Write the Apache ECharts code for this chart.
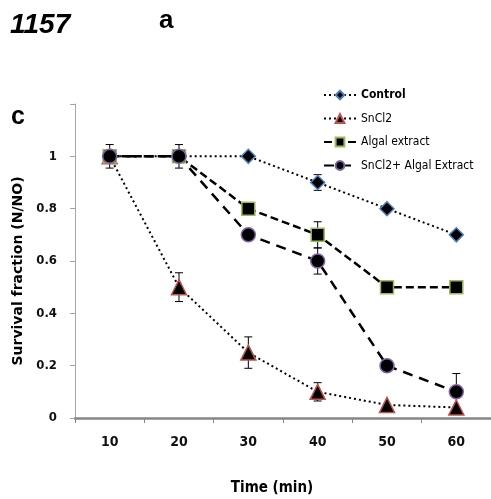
<!DOCTYPE html>
<html>
<head>
<meta charset="utf-8">
<script src="https://cdn.jsdelivr.net/npm/echarts@6/dist/echarts.min.js"></script>
<style>html,body{margin:0;padding:0;background:#fff;}#c{width:491px;height:499px;}</style>
</head>
<body>
<div id="c"></div>
<script>
const times = ['10', '20', '30', '40', '50', '60'];
const yTicks = [0, 0.2, 0.4, 0.6, 0.8, 1];
const seriesNames = ['Control', 'SnCl2', 'Algal extract', 'SnCl2+ Algal Extract'];
const control = [1, 1, 1, 0.9, 0.8, 0.7];
const sncl2 = [1, 0.5, 0.25, 0.1, 0.05, 0.04];
const algal = [1, 1, 0.8, 0.7, 0.5, 0.5];
const combo = [1, 1, 0.7, 0.6, 0.2, 0.1];
const controlErr = [0, 0, 0, 0.03, 0, 0];
const sncl2Err = [0, 0.055, 0.06, 0.035, 0, 0];
const algalErr = [0, 0, 0, 0.05, 0, 0];
const comboErr = [0.045, 0.045, 0, 0.05, 0, 0.07];

const FN = "'DejaVu Sans Condensed', 'Liberation Sans Narrow', sans-serif";
const chart = echarts.init(document.getElementById('c'));

function errData(vals, errs) {
  const out = [];
  vals.forEach((v, i) => { if (errs[i] > 0) out.push([i, v, errs[i]]); });
  return out;
}
function errSeries(vals, errs) {
  return {
    type: 'custom', z: 1, silent: true,
    data: errData(vals, errs),
    renderItem: function (params, api) {
      const x = api.value(0), y = api.value(1), e = api.value(2);
      const t = api.coord([x, y + e]);
      const b = api.coord([x, y - e]);
      const w = 4;
      const st = { stroke: '#000', lineWidth: 1 };
      return { type: 'group', children: [
        { type: 'line', shape: { x1: t[0], y1: t[1], x2: b[0], y2: b[1] }, style: st },
        { type: 'line', shape: { x1: t[0] - w, y1: t[1], x2: t[0] + w, y2: t[1] }, style: st },
        { type: 'line', shape: { x1: b[0] - w, y1: b[1], x2: b[0] + w, y2: b[1] }, style: st }
      ]};
    }
  };
}
function lineSeries(name, data, symbol, size, border, dash, width) {
  return {
    name: name, type: 'line', data: data, z: 3,
    symbol: symbol, symbolSize: size, showAllSymbol: true,
    itemStyle: { color: '#000', borderColor: border, borderWidth: 1.5 },
    lineStyle: { color: '#000', width: width, type: dash },
    emphasis: { disabled: true }
  };
}

const option = {
  animation: false,
  backgroundColor: '#fff',
  grid: { left: 75, right: -13, top: 104, bottom: 81 },
  legend: {
    orient: 'vertical', left: 323, top: 89, padding: 0,
    itemWidth: 32, itemHeight: 11, itemGap: 11.5,
    data: seriesNames,
    textStyle: { fontFamily: FN, fontSize: 12, color: '#000',
      rich: { b: { fontFamily: FN, fontSize: 12, fontWeight: 'bold', color: '#000' } } },
    formatter: function (n) { return n === 'Control' ? '{b|' + n + '}' : n; }
  },
  xAxis: {
    type: 'category', data: times, boundaryGap: true,
    axisLine: { lineStyle: { color: '#868686', width: 2.5 } },
    axisTick: { show: true, length: 5, lineStyle: { color: '#868686', width: 1 } },
    axisLabel: { margin: 17, fontFamily: FN, fontSize: 14, fontWeight: 'bold', color: '#111' },
    splitLine: { show: false }
  },
  yAxis: {
    type: 'value', min: 0, max: 1.2, interval: 0.2,
    axisLine: { show: true, lineStyle: { color: '#a6a6a6', width: 1 } },
    axisTick: { show: true, length: 5, lineStyle: { color: '#a6a6a6' } },
    axisLabel: { margin: 18, fontFamily: FN, fontSize: 13, fontWeight: 'bold', color: '#111',
      formatter: function (v) {
        const r = Math.round(v * 10) / 10;
        return yTicks.indexOf(r) >= 0 ? String(r) : '';
      } },
    splitLine: { show: false }
  },
  graphic: [
    { type: 'text', left: 10, top: 11, style: { text: '1157', font: "italic bold 28px 'Liberation Sans', Arial, sans-serif", fill: '#000' } },
    { type: 'text', left: 159, top: 8, style: { text: 'a', font: "bold 26px 'Liberation Sans', Arial, sans-serif", fill: '#000' } },
    { type: 'text', left: 11, top: 105, style: { text: 'c', font: "bold 25px 'Liberation Sans', Arial, sans-serif", fill: '#000' } },
    { type: 'text', x: 272, y: 488, style: { text: 'Time (min)', font: "bold 15px " + FN, fill: '#000', align: 'center', verticalAlign: 'middle' } },
    { type: 'text', x: 18, y: 271, rotation: Math.PI / 2,
      style: { text: 'Survival fraction (N/NO)', font: "bold 14px 'DejaVu Sans', sans-serif", fill: '#000', align: 'center', verticalAlign: 'middle' } }
  ],
  series: [
    errSeries(control, controlErr),
    errSeries(sncl2, sncl2Err),
    errSeries(algal, algalErr),
    errSeries(combo, comboErr),
    lineSeries(seriesNames[0], control, 'diamond', 14, '#4F81BD', [2, 3], 2),
    lineSeries(seriesNames[1], sncl2, 'triangle', 15, '#C0504D', [2, 3], 2),
    lineSeries(seriesNames[2], algal, 'rect', 13, '#9BBB59', [8, 4], 2.5),
    lineSeries(seriesNames[3], combo, 'circle', 14, '#8064A2', [10, 7], 2.5)
  ]
};
chart.setOption(option);
</script>
</body>
</html>
